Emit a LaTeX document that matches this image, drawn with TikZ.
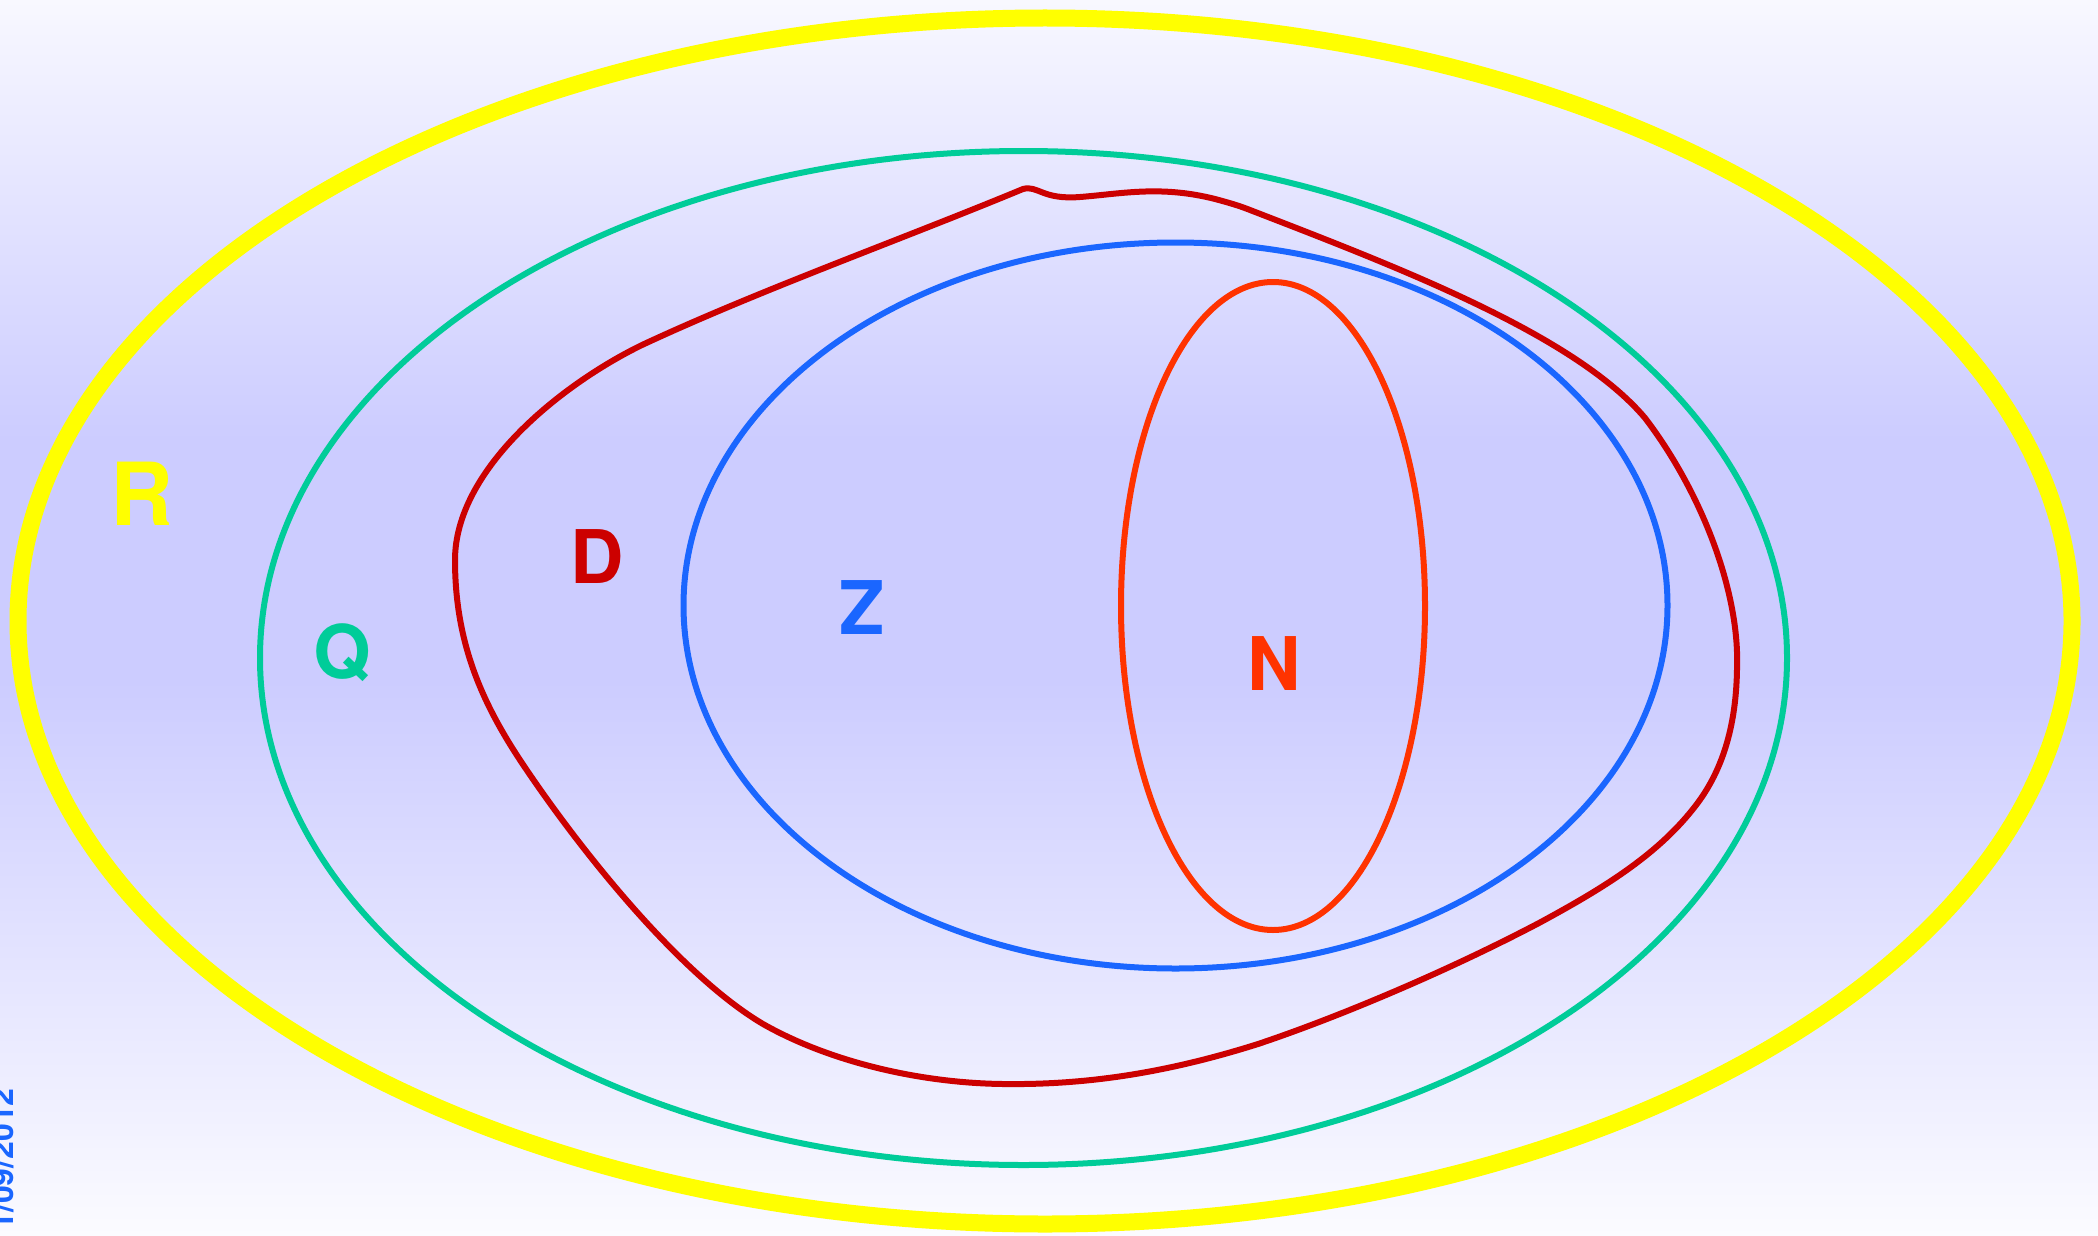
\documentclass[tikz,border=0pt]{standalone}
\usepackage{fontspec}
\setmainfont{TeX Gyre Heros}
\definecolor{ylw}{RGB}{255,255,0}
\definecolor{grn}{RGB}{0,204,153}
\definecolor{blu}{RGB}{26,102,255}
\definecolor{drd}{RGB}{204,0,0}
\definecolor{nrd}{RGB}{255,51,0}
\definecolor{bgtop}{RGB}{248,248,255}
\definecolor{bgmid}{RGB}{204,204,255}
\definecolor{bgbot}{RGB}{251,251,255}
\tikzset{
  setline/.style={line width=6pt},
  setlabel/.style={font=\bfseries\fontsize{74}{80}\selectfont, inner sep=0pt, anchor=base},
}
\begin{document}
\begin{tikzpicture}[x=1pt,y=-1pt]
\useasboundingbox (0,0) rectangle (2098,1236);
% background
\shade[top color=bgtop, bottom color=bgmid] (0,0) rectangle (2098,440);
\fill[bgmid] (0,439) rectangle (2098,681);
\shade[top color=bgmid, bottom color=bgbot] (0,680) rectangle (2098,1236);
% sets
\draw[ylw, line width=17pt] (1045,621) ellipse [x radius=1027, y radius=603];
\draw[grn, setline] (1023.5,658) ellipse [x radius=763.5, y radius=507];
\draw[drd, setline, line join=round]
  (1023,189) .. controls (1038,185) and (1042,200) .. (1080,197)
  .. controls (1120,194) and (1160,185) .. (1215,199)
  .. controls (1230,203) and (1240,206) .. (1250,210)
  .. controls (1400,268) and (1575,335) .. (1645,418)
  .. controls (1700,490) and (1740,590) .. (1737,669)
  .. controls (1736,735) and (1718,778) .. (1693,809)
  .. controls (1655,857) and (1600,890) .. (1539,923)
  .. controls (1440,975) and (1330,1020) .. (1258,1044)
  .. controls (1160,1075) and (1080,1085) .. (1003,1084)
  .. controls (920,1083) and (830,1062) .. (763,1024)
  .. controls (680,975) and (580,850) .. (522,763)
  .. controls (480,700) and (455,640) .. (455,560)
  .. controls (455,470) and (560,385) .. (642,345)
  .. controls (760,290) and (900,240) .. (1023,189) -- cycle;
\draw[blu, setline] (1175.5,605.5) ellipse [x radius=492, y radius=363];
\draw[nrd, setline] (1273,606) ellipse [x radius=152, y radius=324];
% labels
\node[setlabel, text=ylw, font=\bfseries\fontsize{87}{90}\selectfont] (lR) at (142,525) {R};
\node[setlabel, text=grn] (lQ) at (342,678) {Q};
\node[setlabel, text=drd] (lD) at (597,583) {D};
\node[setlabel, text=blu] (lZ) at (862,634) {Z};
\node[setlabel, text=nrd] (lN) at (1274,690) {N};
% date
\node[anchor=north east, inner sep=0pt, text=blu, font=\bfseries\fontsize{32}{34}\selectfont] (date) at (14,1088) {\rotatebox{90}{1/09/2012}};
\end{tikzpicture}
\end{document}
